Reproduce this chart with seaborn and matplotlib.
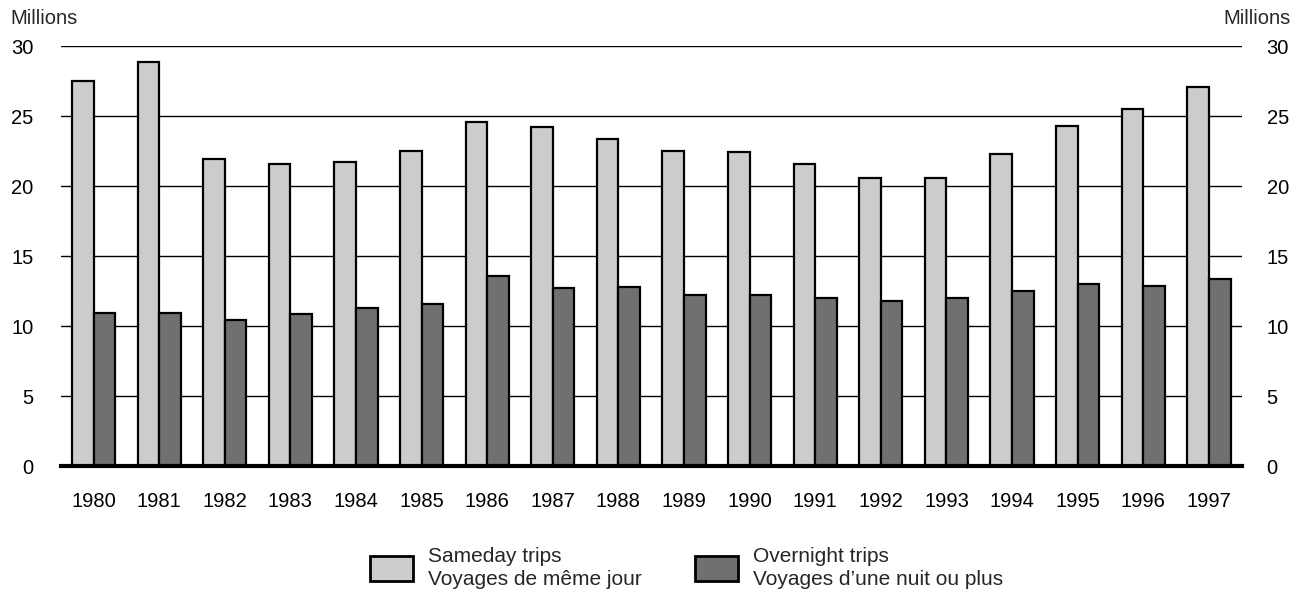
import matplotlib
matplotlib.use("Agg")
import matplotlib.pyplot as plt
from matplotlib.patches import Patch
import seaborn as sns
import pandas as pd

years = [str(y) for y in range(1980, 1998)]
sameday = [27.5, 28.85, 21.95, 21.6, 21.7, 22.55, 24.6, 24.25, 23.4, 22.5, 22.45,
           21.6, 20.6, 20.6, 22.3, 24.3, 25.55, 27.1]
overnight = [10.95, 10.95, 10.45, 10.9, 11.3, 11.55, 13.6, 12.75, 12.8, 12.2, 12.25,
             12.0, 11.8, 12.0, 12.5, 13.0, 12.9, 13.4]
series_labels = ["Sameday trips\nVoyages de même jour",
                 "Overnight trips\nVoyages d\u2019une nuit ou plus"]
y_ticks = [0, 5, 10, 15, 20, 25, 30]
colors = ["#cccccc", "#707070"]

df = pd.DataFrame({
    "year": years * 2,
    "value": sameday + overnight,
    "series": [series_labels[0]] * len(years) + [series_labels[1]] * len(years),
})

sns.set_theme(style="white")
plt.rcParams["font.family"] = ["Liberation Sans", "DejaVu Sans"]
FS = 14.5

fig = plt.figure(figsize=(13.01, 5.92), dpi=100)
ax = fig.add_axes([0.0467, 0.2128, 0.9077, 0.709])

sns.barplot(data=df, x="year", y="value", hue="series", palette=colors,
            width=0.66, gap=0, edgecolor="black", linewidth=1.6,
            ax=ax, legend=False, zorder=3)

ax.set_xlim(-0.5, len(years) - 0.5)
ax.set_ylim(0, 30)
ax.set_yticks(y_ticks)
ax.set_yticklabels([str(t) for t in y_ticks])
ax.yaxis.grid(True, color="black", linewidth=1.0, zorder=0)
ax.set_axisbelow(True)
for s in ["left", "right", "top"]:
    ax.spines[s].set_visible(False)
ax.spines["bottom"].set_linewidth(3)
ax.spines["bottom"].set_color("black")
ax.spines["bottom"].set_zorder(5)
ax.tick_params(axis="y", length=0, pad=19.5, labelsize=FS, colors="black")
ax.tick_params(axis="x", length=0, pad=19, labelsize=14.5, colors="black")
ax.set_xlabel("")
ax.set_ylabel("")

ax2 = ax.twinx()
ax2.set_ylim(0, 30)
ax2.set_yticks(y_ticks)
ax2.set_yticklabels([str(t) for t in y_ticks])
ax2.tick_params(axis="y", length=0, pad=18, labelsize=FS, colors="black")
for s in ["left", "right", "top", "bottom"]:
    ax2.spines[s].set_visible(False)
ax2.grid(False)

fig.text(10 / 1301, 1 - 19 / 592, "Millions", fontsize=FS, ha="left", va="center")
fig.text(1291 / 1301, 1 - 19 / 592, "Millions", fontsize=FS, ha="right", va="center")

handles = [Patch(facecolor=c, edgecolor="black", linewidth=2.0) for c in colors]
leg = fig.legend(handles, series_labels, loc="center", bbox_to_anchor=(0.528, 0.041),
                 ncol=2, frameon=False, fontsize=15, handlelength=2.07, handleheight=1.44,
                 handletextpad=0.72, columnspacing=2.55, borderpad=0, borderaxespad=0)
for t in leg.get_texts():
    t.set_linespacing(1.25)

fig.savefig("out.png", dpi=100)
